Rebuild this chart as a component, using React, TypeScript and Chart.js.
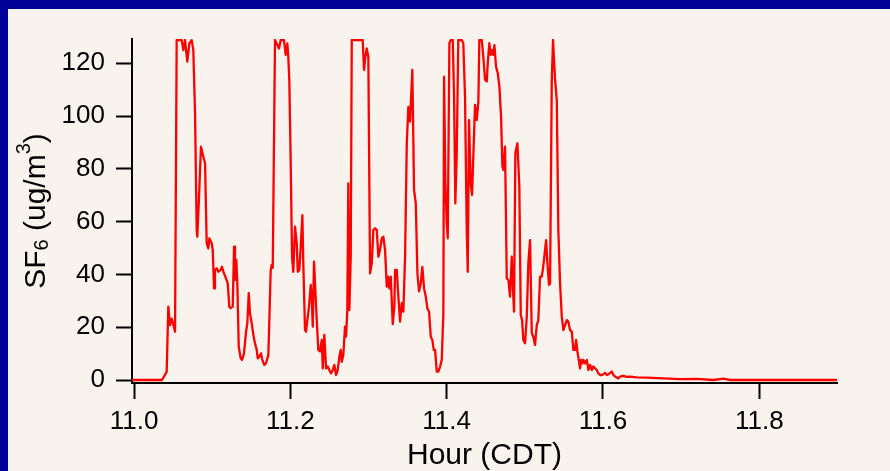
import { useEffect, useRef } from "react";
import { Chart, registerables } from "chart.js";

Chart.register(...registerables);

// Time of each sample, decimal hours (CDT)
const hours = [
  10.9987, 11.0358, 11.0418, 11.0439, 11.0461, 11.0482, 11.0503, 11.0525, 11.0546, 11.061,
  11.0631, 11.0653, 11.0682, 11.0708, 11.0738, 11.0759, 11.0781, 11.0802, 11.081, 11.0832,
  11.0857, 11.0887, 11.0909, 11.093, 11.0951, 11.0964, 11.0994, 11.1007, 11.1024, 11.1036,
  11.1058, 11.1079, 11.1109, 11.1126, 11.1143, 11.1177, 11.1199, 11.1219, 11.1237, 11.1263,
  11.128, 11.1292, 11.1309, 11.1322, 11.134, 11.1365, 11.1382, 11.1408, 11.1433, 11.145,
  11.1468, 11.1484, 11.1506, 11.1527, 11.1548, 11.157, 11.1583, 11.1603, 11.1625, 11.1642,
  11.1667, 11.1689, 11.1719, 11.1749, 11.1762, 11.1775, 11.1804, 11.1855, 11.1877, 11.1919,
  11.1941, 11.1962, 11.1974, 11.1987, 11.2005, 11.2022, 11.2038, 11.206, 11.2082, 11.2095,
  11.2115, 11.2133, 11.2154, 11.2166, 11.2188, 11.2201, 11.2218, 11.2239, 11.2261, 11.2274,
  11.2287, 11.2303, 11.2316, 11.2338, 11.2358, 11.238, 11.2402, 11.2415, 11.2435, 11.2457,
  11.2479, 11.2499, 11.2521, 11.2543, 11.2563, 11.2585, 11.2607, 11.2627, 11.2645, 11.2658,
  11.2678, 11.27, 11.2713, 11.2729, 11.2742, 11.2755, 11.2773, 11.2786, 11.2926, 11.2943,
  11.296, 11.2978, 11.2998, 11.302, 11.3042, 11.3062, 11.3084, 11.3106, 11.3126, 11.3148,
  11.317, 11.319, 11.3212, 11.3234, 11.325, 11.3267, 11.3285, 11.331, 11.3331, 11.334,
  11.3362, 11.3382, 11.3404, 11.3426, 11.3446, 11.3468, 11.349, 11.351, 11.3532, 11.3561,
  11.3583, 11.3605, 11.3626, 11.3647, 11.3669, 11.3689, 11.3711, 11.3733, 11.3753, 11.3775,
  11.3797, 11.3817, 11.3835, 11.3852, 11.3874, 11.3894, 11.3916, 11.3937, 11.3958, 11.3967,
  11.3983, 11.4001, 11.4014, 11.4035, 11.4053, 11.4078, 11.4095, 11.4111, 11.4129, 11.4149,
  11.4193, 11.4213, 11.4235, 11.4257, 11.427, 11.4286, 11.4308, 11.4325, 11.4341, 11.4363,
  11.4385, 11.4406, 11.4418, 11.4449, 11.4469, 11.4491, 11.4513, 11.4526, 11.4546, 11.4564,
  11.4581, 11.4598, 11.4611, 11.4632, 11.4654, 11.4675, 11.4696, 11.4713, 11.4726, 11.4747,
  11.4769, 11.479, 11.4811, 11.4833, 11.4846, 11.4862, 11.4879, 11.4905, 11.493, 11.4948,
  11.4965, 11.4981, 11.5003, 11.5025, 11.5045, 11.5067, 11.5089, 11.5109, 11.5131, 11.5153,
  11.5173, 11.5195, 11.5217, 11.523, 11.525, 11.5272, 11.5289, 11.531, 11.5323, 11.5345,
  11.5361, 11.5387, 11.5409, 11.5429, 11.5451, 11.5473, 11.5493, 11.5515, 11.5537, 11.5557,
  11.5579, 11.5601, 11.5621, 11.5643, 11.5656, 11.5673, 11.569, 11.5707, 11.572, 11.5737,
  11.5749, 11.5771, 11.5793, 11.5813, 11.5835, 11.5857, 11.5877, 11.5899, 11.5921, 11.5941,
  11.5963, 11.5985, 11.6006, 11.6027, 11.6049, 11.607, 11.6091, 11.6113, 11.6133, 11.6155,
  11.6197, 11.6219, 11.6261, 11.6305, 11.6347, 11.6433, 11.6561, 11.6773, 11.6987, 11.72,
  11.7413, 11.7541, 11.7626, 11.8992,
];

// SF6 concentration at each sample, ug/m3
const sf6 = [
  0, 0, 3.1, 27.8, 20.8, 23.2, 21.0, 18.3, 128.8, 128.8,
  125.0, 128.8, 120.6, 127.5, 128.8, 125.0, 101.0, 56.8, 54.3, 69.5,
  88.4, 84.6, 82.1, 51.8, 49.9, 53.7, 51.8, 49.3, 34.7, 41.7,
  42.3, 41.0, 41.7, 42.9, 41.0, 38.5, 36.6, 27.8, 27.2, 27.8,
  50.5, 37.9, 45.5, 36.6, 12.6, 8.2, 7.6, 10.1, 18.3, 21.5,
  32.9, 25.3, 21.5, 17.1, 13.9, 11.4, 8.2, 8.8, 10.1, 7.6,
  5.7, 6.3, 9.5, 41.7, 43.6, 42.5, 128.8, 125.6, 128.8, 128.8,
  123.2, 127.5, 122.5, 113.7, 82.1, 46.7, 41.0, 58.1, 51.8, 41.0,
  41.7, 50.5, 62.5, 44.2, 18.9, 18.3, 22.7, 27.8, 36.0, 31.6,
  20.2, 44.8, 36.6, 22.7, 11.4, 10.8, 15.2, 4.4, 17.1, 4.4,
  5.1, 3.8, 2.5, 3.8, 5.7, 1.9, 3.8, 8.8, 11.4, 6.9,
  9.5, 20.2, 16.4, 26.5, 74.5, 26.5, 46.7, 128.8, 128.8, 117.5,
  122.5, 125.6, 122.5, 40.4, 44.2, 56.8, 57.5, 56.8, 46.7, 49.3,
  53.7, 54.3, 49.3, 35.4, 39.2, 34.7, 39.2, 21.2, 27.8, 41.7,
  41.7, 31.6, 22.1, 29.1, 25.9, 46.7, 89.7, 103.5, 97.9, 117.5,
  72.0, 66.9, 40.4, 33.6, 36.6, 42.9, 34.7, 31.6, 27.2, 25.9,
  16.4, 15.2, 11.4, 11.4, 3.2, 3.2, 5.1, 7.6, 25.3, 114.9,
  75.8, 59.4, 53.7, 127.6, 128.8, 128.8, 107.3, 66.9, 85.9, 128.8,
  128.8, 127.6, 107.3, 56.8, 41.0, 98.5, 74.5, 70.1, 84.6, 104.2,
  98.5, 105.5, 128.8, 128.8, 122.5, 113.7, 113.1, 119.9, 127.6, 123.2,
  125.0, 123.2, 126.9, 118.7, 116.2, 111.2, 99.8, 81.0, 79.6, 88.4,
  38.5, 37.9, 31.6, 46.7, 36.6, 25.9, 85.9, 89.7, 73.3, 24.6,
  22.7, 15.2, 13.9, 23.9, 44.2, 53.0, 17.7, 16.4, 13.3, 20.8,
  22.7, 39.2, 39.2, 41.7, 46.7, 53.0, 44.2, 36.0, 36.6, 113.7,
  128.8, 113.7, 106.1, 56.8, 36.6, 24.0, 18.9, 20.8, 22.7, 22.1,
  18.9, 18.3, 11.4, 11.4, 15.2, 10.8, 7.6, 4.4, 7.6, 6.3,
  7.6, 6.3, 7.6, 3.8, 5.7, 3.8, 5.1, 4.4, 3.8, 2.5,
  1.9, 1.9, 2.2, 2.7, 1.9, 2.2, 2.7, 3.2, 1.9, 1.3,
  0.6, 1.3, 1.6, 1.2, 1.3, 1.0, 0.9, 0.6, 0.3, 0.4,
  0.0, 0.5, 0.0, 0.0,
];

const xTicks = [11.0, 11.2, 11.4, 11.6, 11.8];
const yTicks = [0, 20, 40, 60, 80, 100, 120];
const xTitle = "Hour (CDT)";
// y-axis title pieces: plain text, subscript and superscript
const yTitleParts: { text: string; kind: "normal" | "sub" | "sup" }[] = [
  { text: "SF", kind: "normal" },
  { text: "6", kind: "sub" },
  { text: " (ug/m", kind: "normal" },
  { text: "3", kind: "sup" },
  { text: ")", kind: "normal" },
];

const FONT = "'Liberation Sans', Arial, Helvetica, sans-serif";
const FRAME_BLUE = "#000099";
const PANEL = "#F8F3ED";

const W = 890;
const H = 471;
const AREA = { left: 132, top: 39, right: 837, bottom: 383 };

const framePlugin = {
  id: "frame",
  beforeDraw(chart: Chart) {
    const ctx = chart.ctx;
    ctx.save();
    ctx.fillStyle = FRAME_BLUE;
    ctx.fillRect(0, 0, W, H);
    ctx.fillStyle = PANEL;
    ctx.fillRect(8, 9, W - 8, H - 9);
    ctx.restore();
  },
};

const yTitlePlugin = {
  id: "yTitle",
  afterDraw(chart: Chart) {
    const ctx = chart.ctx;
    const { top, bottom } = chart.chartArea;
    const big = 30;
    const small = 20;
    ctx.save();
    ctx.translate(45, (top + bottom) / 2);
    ctx.rotate(-Math.PI / 2);
    ctx.fillStyle = "#000";
    ctx.textBaseline = "alphabetic";
    ctx.textAlign = "left";
    const fontFor = (k: string) => `${k === "normal" ? big : small}px ${FONT}`;
    let total = 0;
    for (const p of yTitleParts) {
      ctx.font = fontFor(p.kind);
      total += ctx.measureText(p.text).width;
    }
    let u = -total / 2;
    for (const p of yTitleParts) {
      ctx.font = fontFor(p.kind);
      const dv = p.kind === "sub" ? 3 : p.kind === "sup" ? -15 : 0;
      ctx.fillText(p.text, u, dv);
      u += ctx.measureText(p.text).width;
    }
    ctx.restore();
  },
};

export default function App() {
  const ref = useRef<HTMLCanvasElement | null>(null);

  useEffect(() => {
    if (!ref.current) return;
    const pxPerHour = (759.3 - 134) / 0.8;
    const xMin = 11 - (134 - AREA.left) / pxPerHour;
    const xMax = 11 + (AREA.right - 134) / pxPerHour;
    const pxPerUnit = (380 - 63.3) / 120;
    const yMin = -(AREA.bottom - 380) / pxPerUnit;
    const yMax = (380 - AREA.top) / pxPerUnit;

    const points = hours.map((h, i) => ({ x: h, y: sf6[i] }));

    const chart = new Chart(ref.current, {
      type: "line",
      data: {
        datasets: [
          {
            data: points,
            borderColor: "#ff0000",
            borderWidth: 2.3,
            borderJoinStyle: "round",
            borderCapStyle: "round",
            pointRadius: 0,
            tension: 0,
            fill: false,
          },
        ],
      },
      options: {
        animation: false,
        responsive: false,
        devicePixelRatio: 1,
        parsing: false,
        layout: {
          padding: { left: 0, top: AREA.top, right: W - AREA.right, bottom: 0 },
        },
        plugins: {
          legend: { display: false },
          tooltip: { enabled: false },
        },
        scales: {
          x: {
            type: "linear",
            min: xMin,
            max: xMax,
            afterBuildTicks: (s: any) => {
              s.ticks = xTicks.map((v) => ({ value: v }));
            },
            afterFit: (s: any) => {
              s.height = H - AREA.bottom;
            },
            grid: {
              drawOnChartArea: false,
              drawTicks: true,
              tickLength: 16,
              tickWidth: 2,
              tickColor: "#000",
            },
            border: { display: true, color: "#000", width: 2 },
            ticks: {
              color: "#000",
              font: { family: FONT, size: 26 },
              padding: 7,
              maxRotation: 0,
              autoSkip: false,
              callback: (v: any) => Number(v).toFixed(1),
            },
            title: {
              display: true,
              text: xTitle,
              color: "#000",
              font: { family: FONT, size: 30, lineHeight: 1 },
              padding: { top: 0, bottom: 0 },
            },
          },
          y: {
            type: "linear",
            min: yMin,
            max: yMax,
            afterBuildTicks: (s: any) => {
              s.ticks = yTicks.map((v) => ({ value: v }));
            },
            afterFit: (s: any) => {
              s.width = AREA.left;
            },
            grid: {
              drawOnChartArea: false,
              drawTicks: true,
              tickLength: 16,
              tickWidth: 2,
              tickColor: "#000",
            },
            border: { display: true, color: "#000", width: 2 },
            ticks: {
              color: "#000",
              font: { family: FONT, size: 26 },
              padding: 11,
              autoSkip: false,
              callback: (v: any) => String(v),
            },
          },
        },
      },
      plugins: [framePlugin, yTitlePlugin],
    });
    return () => chart.destroy();
  }, []);

  return (
    <div style={{ position: "fixed", left: 0, top: 0, width: W, height: H }}>
      <canvas ref={ref} width={W} height={H} style={{ display: "block", width: W, height: H }} />
    </div>
  );
}
